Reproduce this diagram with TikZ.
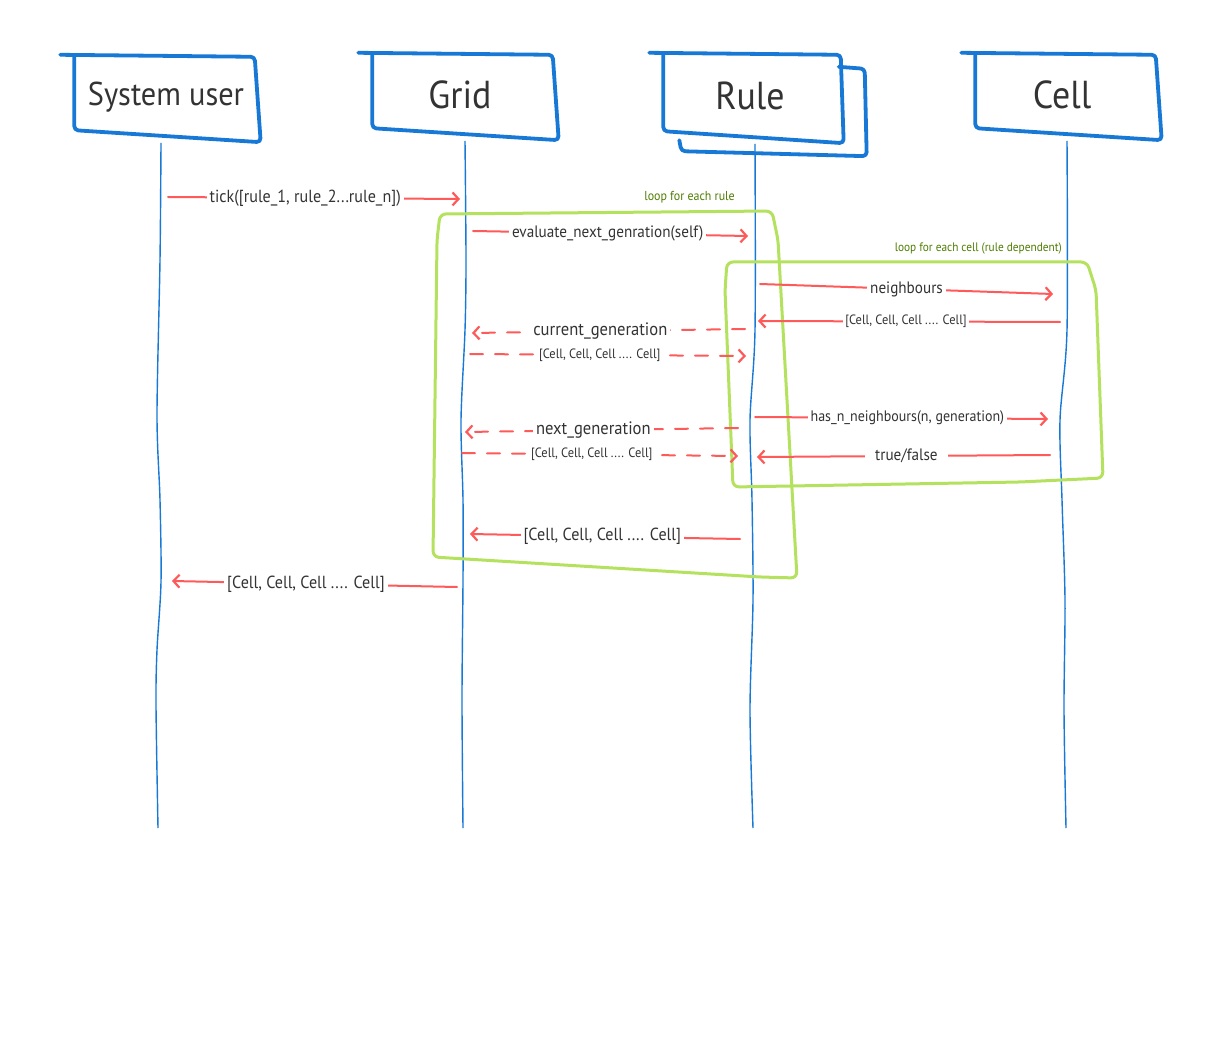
\documentclass[tikz,border=0pt]{standalone}
\usepackage{fontspec}
\setmainfont{PT Sans}[FakeStretch=0.92]
\usetikzlibrary{arrows.meta,calc}
\definecolor{lblue}{HTML}{1778D6}
\definecolor{lred}{HTML}{FF5A5A}
\definecolor{lgreen}{HTML}{B4E25E}
\definecolor{dgreen}{HTML}{4F7D00}
\definecolor{tgray}{HTML}{333333}
\tikzset{
  actor/.style={rectangle, minimum width=183pt, minimum height=82pt, inner sep=0pt, text=tgray, font=\fontsize{33}{38}\selectfont},
  bigactor/.style={actor, font=\fontsize{39}{44}\selectfont},
  boxline/.style={draw=lblue, line width=3.8pt, rounded corners=4pt, line cap=round, line join=round},
  life/.style={draw=lblue, line width=1.4pt},
  msg/.style={draw=lred, line width=2pt, line cap=round, -{Straight Barb[length=6pt,width=13pt,line width=2.2pt]}},
  dmsg/.style={msg, dash pattern=on 13pt off 12pt},
  lbl/.style={fill=white, text=tgray, inner sep=3pt, font=\fontsize{16.5}{18}\selectfont},
  slbl/.style={lbl, inner sep=2pt, font=\fontsize{13.5}{15}\selectfont},
  bl/.style={lbl, font=\fontsize{17.5}{19}\selectfont},
  loopline/.style={draw=lgreen, line width=3pt, rounded corners=6pt, line join=round},
  looplbl/.style={text=dgreen, inner sep=0pt, font=\fontsize{13}{14}\selectfont}
}
\begin{document}
\begin{tikzpicture}[x=1pt,y=-1pt]
\useasboundingbox[fill=white] (0,0) rectangle (1215,1040);

% actors
\node[actor] (su) at (166,97) {System user};
\node[bigactor] (grid) at (460,95) {Grid};
\node[bigactor] (rule) at (750,96) {Rule};
\node[bigactor] (cell) at (1062,95) {Cell};

% box outlines
\foreach \n/\d in {su/0,grid/4,cell/5}{
  \draw[boxline] ($(\n.north west)+(-14+\d,-1)$) -- ($(\n.north east)+(-3+\d,1)$) -- ($(\n.south east)+(3+\d,4)$) -- ($(\n.south west)+(\d,-8)$) -- ($(\n.north west)+(\d,1)$);
}
\draw[boxline] ($(rule.north west)+(-9,-2)$) -- ($(rule.north east)+(-1,0)$) -- ($(rule.south east)+(2,6)$) -- ($(rule.south west)+(5,-6)$) -- ($(rule.north west)+(5,0)$);
\draw[boxline] ($(rule.north east)+(-3,12)$) -- ($(rule.north east)+(23,14)$) -- ($(rule.south east)+(25,19)$) -- ($(rule.south west)+(23,14)$) -- ($(rule.south west)+(21,3)$);

% lifelines
\draw[life] (su.south -| 161,0) plot[smooth] coordinates {(161,143) (160,260) (157,415) (160,500) (161,582) (157,650) (156,705) (158,828)};
\draw[life] (grid.south) plot[smooth] coordinates {(465,141) (466,260) (465,330) (461,420) (463,500) (463,580) (462,700) (463,828)};
\draw[life] (rule.south) plot[smooth] coordinates {(755,144) (755,330) (750,420) (752,500) (753,600) (750,710) (753,828)};
\draw[life] (cell.south) plot[smooth] coordinates {(1067,141) (1067,330) (1060,420) (1062,500) (1065,600) (1064,710) (1066,828)};

% message end points
\coordinate (m1a) at (168,197); \coordinate (m1b) at (460,199);
\coordinate (m2a) at (473,231); \coordinate (m2b) at (748,236);
\coordinate (m3a) at (760,284); \coordinate (m3b) at (1053,294);
\coordinate (m4a) at (1060,322); \coordinate (m4b) at (758,321);
\coordinate (m5a) at (745,329); \coordinate (m5b) at (472,333);
\coordinate (m6a) at (470,354); \coordinate (m6b) at (746,356);
\coordinate (m7a) at (755,417); \coordinate (m7b) at (1048,419);
\coordinate (m8a) at (738,428); \coordinate (m8b) at (465,432);
\coordinate (m9a) at (462,453); \coordinate (m9b) at (738,456);
\coordinate (m10a) at (1050,455); \coordinate (m10b) at (757,457);
\coordinate (m11a) at (740,539); \coordinate (m11b) at (470,534);
\coordinate (m12a) at (457,587); \coordinate (m12b) at (172,581);

% loop frames
\draw[loopline] (437,240) -- (440,214) -- (772,211) -- (778,240) -- (797,578) -- (760,577) -- (433,557) -- cycle;
\draw[loopline] (725,290) -- (727,262) -- (1087,262) -- (1096,290) -- (1103,478) -- (1020,482) -- (733,487) -- cycle;
\node[looplbl, anchor=east] (l1) at (735,197) {loop for each rule};
\node[looplbl, anchor=east, font=\fontsize{12.3}{14}\selectfont] (l2) at (1062,248) {loop for each cell (rule dependent)};

% messages
\draw[msg] (m1a) -- (m1b) node[lbl, pos=0.47, font=\fontsize{17.5}{19}\selectfont] (t1) {tick([rule\_1, rule\_2...rule\_n])};
\draw[msg] (m2a) -- (m2b) node[lbl, pos=0.49] (t2) {evaluate\_next\_genration(self)};
\draw[msg] (m3a) -- (m3b) node[lbl, pos=0.5] (t3) {neighbours};
\draw[msg] (m4a) -- (m4b) node[slbl, pos=0.51] (t4) {[Cell, Cell, Cell .... Cell]};
\draw[dmsg] (m5a) -- (m5b) node[bl, pos=0.53, font=\fontsize{18}{20}\selectfont] (t5) {current\_generation};
\draw[dmsg] (m6a) -- (m6b) node[slbl, pos=0.47] (t6) {[Cell, Cell, Cell .... Cell]};
\draw[msg] (m7a) -- (m7b) node[lbl, pos=0.52, font=\fontsize{15.2}{17}\selectfont] (t7) {has\_n\_neighbours(n, generation)};
\draw[dmsg] (m8a) -- (m8b) node[bl, pos=0.53, font=\fontsize{18}{20}\selectfont] (t8) {next\_generation};
\draw[dmsg] (m9a) -- (m9b) node[slbl, pos=0.47] (t9) {[Cell, Cell, Cell .... Cell]};
\draw[msg] (m10a) -- (m10b) node[lbl, pos=0.49, inner xsep=10pt] (t10) {true/false};
\draw[msg] (m11a) -- (m11b) node[bl, pos=0.51] (t11) {[Cell, Cell, Cell .... Cell]};
\draw[msg] (m12a) -- (m12b) node[bl, pos=0.53] (t12) {[Cell, Cell, Cell .... Cell]};
\end{tikzpicture}
\end{document}
